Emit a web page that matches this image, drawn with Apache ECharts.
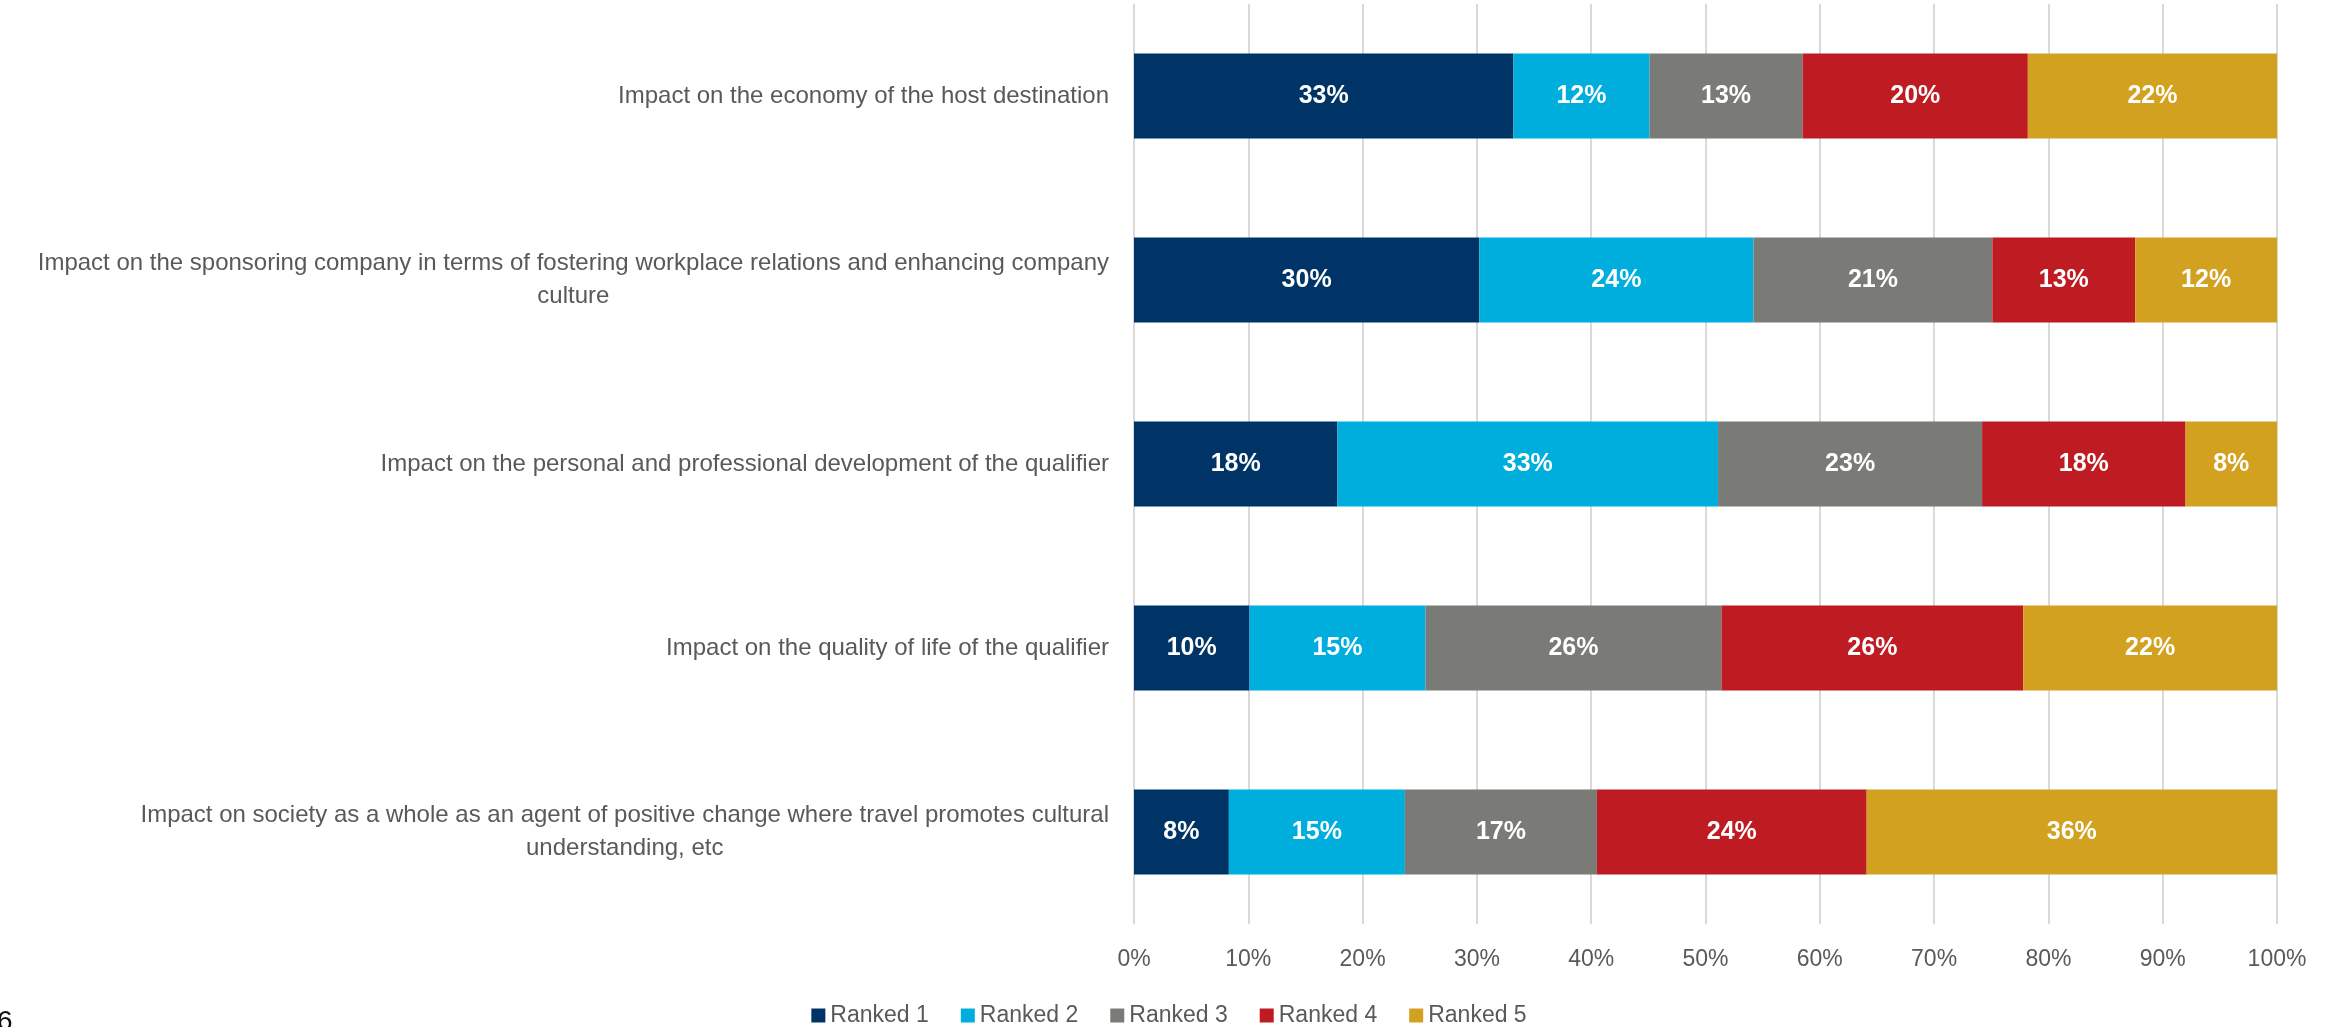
<!DOCTYPE html>
<html><head><meta charset="utf-8">
<script src="https://cdn.jsdelivr.net/npm/echarts@6/dist/echarts.min.js"></script>
<style>html,body{margin:0;padding:0;background:#fff;overflow:hidden}#chart{width:2338px;height:1027px}</style>
</head><body><div id="chart"></div>
<script>
const categories = [
  'Impact on the economy of the host destination',
  'Impact on the sponsoring company in terms of fostering workplace relations and enhancing company culture',
  'Impact on the personal and professional development of the qualifier',
  'Impact on the quality of life of the qualifier',
  'Impact on society as a whole as an agent of positive change where travel promotes cultural understanding, etc'
];
const seriesNames = ['Ranked 1', 'Ranked 2', 'Ranked 3', 'Ranked 4', 'Ranked 5'];
const ranked1 = [33.2, 30.2, 17.8, 10.1, 8.3];
const ranked2 = [11.9, 24.0, 33.3, 15.4, 15.4];
const ranked3 = [13.4, 20.9, 23.1, 25.9, 16.8];
const ranked4 = [19.7, 12.5, 17.8, 26.4, 23.6];
const ranked5 = [21.8, 12.4, 8.0, 22.2, 35.9];
const colors = ['#003466', '#00AEDD', '#7A7B76', '#BE1B22', '#D1A11F'];
const pageNumber = '6';

const FONT = '"Liberation Sans", Arial, sans-serif';
const LABEL_SIZE = 24;
const WRAP_W = 1090;
const ctx = document.createElement('canvas').getContext('2d');
function wrap(text, maxW) {
  ctx.font = LABEL_SIZE + 'px ' + FONT;
  const words = text.split(' ');
  const lines = [];
  let cur = '';
  for (const w of words) {
    const t = cur ? cur + ' ' + w : w;
    if (cur && ctx.measureText(t).width > maxW) { lines.push(cur); cur = w; }
    else cur = t;
  }
  if (cur) lines.push(cur);
  return lines;
}

const allData = [ranked1, ranked2, ranked3, ranked4, ranked5];
const chart = echarts.init(document.getElementById('chart'));
chart.setOption({
  animation: false,
  textStyle: { fontFamily: FONT },
  grid: { left: 1134, right: 61, top: 4, bottom: 103, containLabel: false },
  xAxis: {
    type: 'value', min: 0, max: 100, interval: 10,
    axisLine: { show: false }, axisTick: { show: false },
    splitLine: { show: true, lineStyle: { color: '#D9D9D9', width: 2 } },
    axisLabel: { formatter: '{value}%', fontSize: 23, color: '#595959', margin: 24, fontFamily: FONT }
  },
  yAxis: {
    type: 'category', inverse: true, data: categories,
    axisLine: { show: false }, axisTick: { show: false }, splitLine: { show: false },
    axisLabel: {
      margin: 25,
      formatter: v => wrap(v, WRAP_W).map(l => '{c|' + l + '}').join('\n'),
      rich: { c: { align: 'center', fontSize: LABEL_SIZE, color: '#595959', lineHeight: 33, fontFamily: FONT } }
    }
  },
  legend: {
    data: seriesNames, left: 'center', top: 999, icon: 'rect',
    itemWidth: 14, itemHeight: 14, itemGap: 32,
    textStyle: { fontSize: 23, color: '#595959', fontFamily: FONT }
  },
  graphic: [{
    type: 'text', left: -3, top: 1008,
    style: { text: pageNumber, fontSize: 28, fill: '#111', fontFamily: FONT }
  }],
  series: seriesNames.map((name, i) => ({
    name, type: 'bar', stack: 'total', barWidth: 85,
    itemStyle: { color: colors[i] },
    label: {
      show: true, position: 'inside', color: '#fff', fontWeight: 'bold', fontSize: 25, fontFamily: FONT,
      formatter: p => Math.round(p.value) + '%'
    },
    data: allData[i]
  }))
});
</script></body></html>
